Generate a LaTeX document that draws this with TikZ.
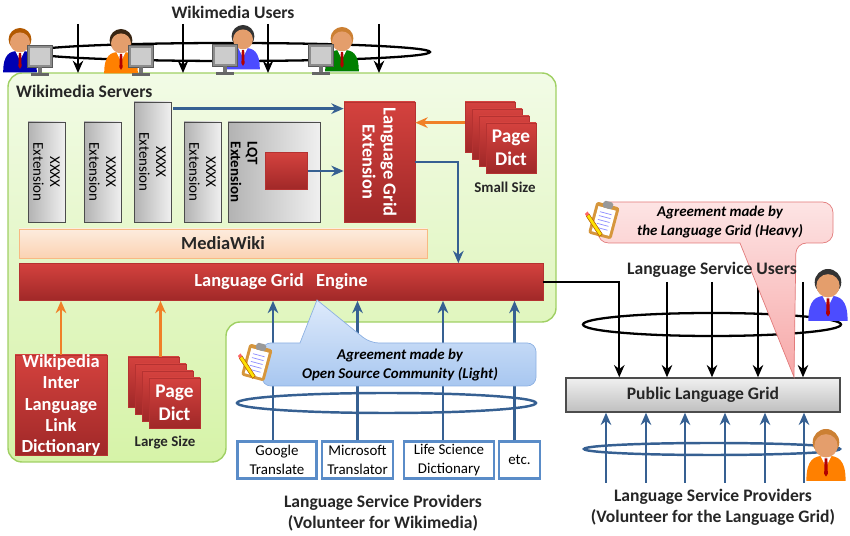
\documentclass[tikz,border=0pt]{standalone}
\usepackage{fontspec}
\setmainfont{Carlito}
\usetikzlibrary{calc,arrows.meta}

\definecolor{lgred}{RGB}{212,66,62}
\definecolor{lgreddk}{RGB}{160,40,40}
\definecolor{lgblue}{RGB}{54,96,146}
\definecolor{pvblue}{RGB}{90,140,200}
\definecolor{lgorange}{RGB}{240,128,40}
\definecolor{srvline}{RGB}{160,208,100}
\definecolor{greentop}{RGB}{242,251,230}
\definecolor{greenbot}{RGB}{214,243,168}
\definecolor{mwtop}{RGB}{253,236,222}
\definecolor{mwbot}{RGB}{251,210,178}
\definecolor{mwline}{RGB}{248,185,130}
\definecolor{bluetop}{RGB}{222,234,251}
\definecolor{bluebot}{RGB}{168,199,240}
\definecolor{blueline}{RGB}{140,176,226}
\definecolor{pinktop}{RGB}{253,228,228}
\definecolor{pinkbot}{RGB}{247,168,168}
\definecolor{pinkline}{RGB}{226,122,122}
\definecolor{skin}{RGB}{228,158,108}
\definecolor{clipbrown}{RGB}{214,150,60}

\newcommand{\pxu}{0.02cm}

% user figure: x, y, suit colour, hair colour, size
\newcommand{\wuser}[5]{%
  \begin{scope}[shift={(#1,#2)}, scale=#5]
    \fill[#3] (-14,27) .. controls (-14,12) and (-9,9) .. (0,9) .. controls (9,9) and (14,12) .. (14,27) -- cycle;
    \fill[white] (-4,9) -- (4,9) -- (0,17) -- cycle;
    \fill[red!70!black] (-1,11) -- (1,11) -- (1.3,22) -- (0,24) -- (-1.3,22) -- cycle;
    \fill[#4] (0,-0.5) circle[radius=9.5];
    \fill[skin] (0,2) circle[radius=8.3];
  \end{scope}}

% computer screen
\newcommand{\wscreen}[2]{%
  \begin{scope}[shift={(#1,#2)}, scale=1.15]
    \fill[black!45, draw=black!65, line width=0.3pt] (-11,-11) rectangle (11,8);
    \fill[black!20] (-9,-9) rectangle (9,6);
    \fill[black!55] (-2,8) rectangle (2,13);
    \fill[black!60] (-8,13) rectangle (8,15.5);
  \end{scope}}

% clipboard with pencil
\newcommand{\clipbd}[2]{%
  \begin{scope}[shift={(#1,#2)}, rotate=-15]
    \fill[clipbrown, rounded corners=1.5pt] (-12,-16) rectangle (12,17);
    \fill[white] (-9,-12) rectangle (9,14);
    \foreach \cl in {-7,-3,...,9} \draw[blue!45, line width=0.4pt] (-6,\cl) -- (6,\cl);
    \fill[black!40, rounded corners=1pt] (-5,-19) rectangle (5,-12);
    \fill[yellow!85!orange, draw=orange!70!black, line width=0.3pt] (-16,-2) -- (2,14) -- (0,17) -- (-18,1) -- cycle;
    \fill[red!60] (-16,-2) -- (-18,1) -- (-20,-1) -- (-18,-4) -- cycle;
  \end{scope}}

\tikzset{
  heading/.style={font=\bfseries\fontsize{10}{12}\selectfont, text=black!85, align=center},
  redbox/.style={draw=lgreddk!60!lgred, top color=lgred, bottom color=lgreddk, inner sep=0pt},
  redtext/.style={text=white, font=\bfseries\fontsize{10.5}{12}\selectfont, align=center},
  extbox/.style={draw=black!70, left color=black!30, right color=black!6, inner sep=0pt},
  exttext/.style={rotate=-90, align=center, font=\fontsize{8.5}{9.5}\selectfont},
  pbox/.style={draw=pvblue, line width=1.4pt, fill=white, align=center, inner sep=0pt,
    font=\fontsize{8.5}{11}\selectfont},
  calltext/.style={font=\bfseries\itshape\fontsize{8.5}{11}\selectfont, align=center},
  barrow/.style={draw=lgblue, line width=1.3pt, ->},
  oarrow/.style={draw=lgorange, line width=1.3pt, ->},
  karrow/.style={draw=black, line width=1pt, ->},
}

\begin{document}
\begin{tikzpicture}[x=0.02cm, y=-0.02cm, >={Stealth[length=7pt,width=6pt]}]
\useasboundingbox (0,0) rectangle (850,536);

% Wikimedia servers area
\draw[draw=srvline, line width=0.8pt, top color=greentop, bottom color=greenbot, rounded corners=8pt]
  (100,73) -- (556,73) -- (556,322) -- (226,322) -- (226,462) -- (8,462) -- (8,73) -- cycle;
\coordinate (srvtop) at (8,73);
\node[heading, anchor=west] (srvname) at (10,91) {Wikimedia Servers};

% extensions
\node[extbox, minimum width=37*\pxu, minimum height=100*\pxu] (ext1) at (46.5,172) {};
\node[extbox, minimum width=37*\pxu, minimum height=100*\pxu] (ext2) at (102.5,172) {};
\node[extbox, minimum width=37*\pxu, minimum height=120*\pxu] (ext3) at (152.5,162) {};
\node[extbox, minimum width=37*\pxu, minimum height=100*\pxu] (ext4) at (202.5,172) {};
\foreach \e in {ext1,ext2,ext3,ext4}
  \node[exttext] at (\e) {XXXX\\Extension};
\node[extbox, minimum width=92*\pxu, minimum height=100*\pxu] (lqt) at (274,172) {};
\node[exttext, align=left, font=\bfseries\fontsize{8.5}{9.5}\selectfont] at (244,172) {LQT\\Extension};
\node[redbox, minimum width=42*\pxu, minimum height=37*\pxu] (lqtcore) at (286.5,171) {};

\node[redbox, minimum width=71*\pxu, minimum height=120*\pxu] (lge) at (379.5,162) {};
\node[redtext, rotate=-90] at (lge) {Language Grid\\Extension};

% small page dictionaries
\foreach \i in {0,...,3}
  \node[redbox, minimum width=50*\pxu, minimum height=50*\pxu] (dS\i) at (490+7*\i,127+7*\i) {};
\node[redtext, font=\bfseries\fontsize{11}{13}\selectfont] at (dS3) {Page\\Dict};
\node[heading, font=\bfseries\fontsize{8.5}{10}\selectfont] (smallsz) at (505,187) {Small Size};

\node[draw=mwline, top color=mwtop, bottom color=mwbot, minimum width=408*\pxu, minimum height=29*\pxu,
  heading, font=\bfseries\fontsize{10.5}{12}\selectfont] (mw) at (223,243.5) {MediaWiki};
\node[redbox, redtext, minimum width=524*\pxu, minimum height=37*\pxu] (engine) at (281,282) {Language Grid\ \ \ Engine};

% wikipedia dictionary and large page dictionaries
\node[redbox, redtext, minimum width=92*\pxu, minimum height=96*\pxu] (wild) at (61,405)
  {Wikipedia\\Inter\\Language\\Link\\Dictionary};
\foreach \i in {0,...,3}
  \node[redbox, minimum width=51*\pxu, minimum height=50*\pxu] (dL\i) at (153.5+7*\i,382+7*\i) {};
\node[redtext, font=\bfseries\fontsize{11}{13}\selectfont] at (dL3) {Page\\Dict};
\node[heading, font=\bfseries\fontsize{8.5}{10}\selectfont] (largesz) at (165,443) {Large Size};

% flows inside the servers
\draw[barrow] ($(ext3.north east)+(2,7)$) -- ($(lge.north west)+(0,7)$);
\draw[barrow] (lqtcore.east) -- (lqtcore.east -| lge.west);
\coordinate (dSin) at ($(dS0.north west)+(0,21)$);
\draw[oarrow] (dSin) -- (dSin -| lge.east);
\draw[barrow] (lge.east) -- ++(43,0) coordinate (bend) -- (bend |- engine.north);
\draw[oarrow] (wild.north) -- (wild.north |- engine.south);
\coordinate (dLout) at ($(dL0.north)+(7,0)$);
\draw[oarrow] (dLout) -- (dLout |- engine.south);

% wikimedia users
\node[heading] (wmusers) at (233,12) {Wikimedia Users};
\draw[line width=1.3pt] (230,52) ellipse[x radius=200, y radius=9];
\foreach \x [count=\i] in {78,183,268,379} {
  \coordinate (u\i) at (\x,24);
  \draw[karrow] (u\i) -- (u\i |- srvtop);
}
\wuser{20}{40}{blue!70!black}{orange!70!black}{1.2}
\wscreen{40}{58}
\wuser{121}{41}{orange}{black!70!brown}{1.2}
\wscreen{141}{58}
\wuser{243}{37}{blue!70}{black!80}{1.2}
\wscreen{225}{57}
\wuser{342}{39}{green!50!black}{brown!80!orange}{1.2}
\wscreen{321}{57}

% language service providers for wikimedia
\node[pbox, minimum width=79*\pxu, minimum height=37*\pxu] (google) at (277,460) {Google\\Translate};
\node[pbox, minimum width=71*\pxu, minimum height=37*\pxu] (msft) at (357.5,460) {Microsoft\\Translator};
\node[pbox, minimum width=90*\pxu, minimum height=37*\pxu] (lsd) at (449,460) {Life Science\\Dictionary};
\node[pbox, minimum width=41*\pxu, minimum height=37*\pxu] (etc) at (519.5,460) {etc.};
\foreach \p/\d in {google/-4,msft/0,lsd/-6,etc/-5} {
  \coordinate (\p-out) at ($(\p.north)+(\d,0)$);
  \draw[barrow] (\p-out) -- (\p-out |- engine.south);
}
\draw[draw=lgblue, line width=1.4pt] (386.5,403) ellipse[x radius=149.5, y radius=10];
\node[heading] (lspL) at (383,513) {Language Service Providers\\(Volunteer for Wikimedia)};

\draw[draw=blueline, top color=bluetop, bottom color=bluebot, rounded corners=5pt]
  (300,343) -- (262,343) -- (262,386) -- (536,386) -- (536,343) -- (370,343) [sharp corners] -- (317,300) -- cycle;
\node[calltext] (agrL) at (400,365) {Agreement made by\\Open Source Community (Light)};
\clipbd{257}{362}

% public language grid
\node[draw=black!70, line width=0.8pt, top color=black!6, bottom color=black!25,
  minimum width=274*\pxu, minimum height=34*\pxu, heading] (plg) at (703,395) {Public Language Grid};
\draw[karrow] (engine.east) -| ($(plg.north west)+(54,0)$);
\foreach \x [count=\i] in {667,712,758,803} {
  \coordinate (s\i) at (\x,282);
  \draw[karrow] (s\i) -- (s\i |- plg.north);
}
\draw[line width=1.3pt] (712,324.5) ellipse[x radius=129, y radius=11.5];
\foreach \x [count=\i] in {606,646,685,725,765,804} {
  \coordinate (r\i) at (\x,483);
  \draw[barrow] (r\i) -- (r\i |- plg.south);
}
\draw[draw=lgblue, line width=1.4pt] (712,449) ellipse[x radius=128, y radius=6];

\draw[draw=pinkline, top color=pinktop, bottom color=pinkbot, rounded corners=6pt]
  (740,243) -- (598,243) -- (598,202) -- (833,202) -- (833,243) -- (796,243) [sharp corners] -- (794,377) -- cycle;
\node[calltext] (agrR) at (720,222) {Agreement made by\\the Language Grid (Heavy)};
\clipbd{604}{220}

\node[heading] (lsu) at (712,270) {Language Service Users};
\wuser{828}{283}{blue!70}{black!80}{1.4}
\wuser{826}{443}{orange}{brown!80!orange}{1.4}
\node[heading] (lspR) at (713,507) {Language Service Providers\\(Volunteer for the Language Grid)};

\end{tikzpicture}
\end{document}
